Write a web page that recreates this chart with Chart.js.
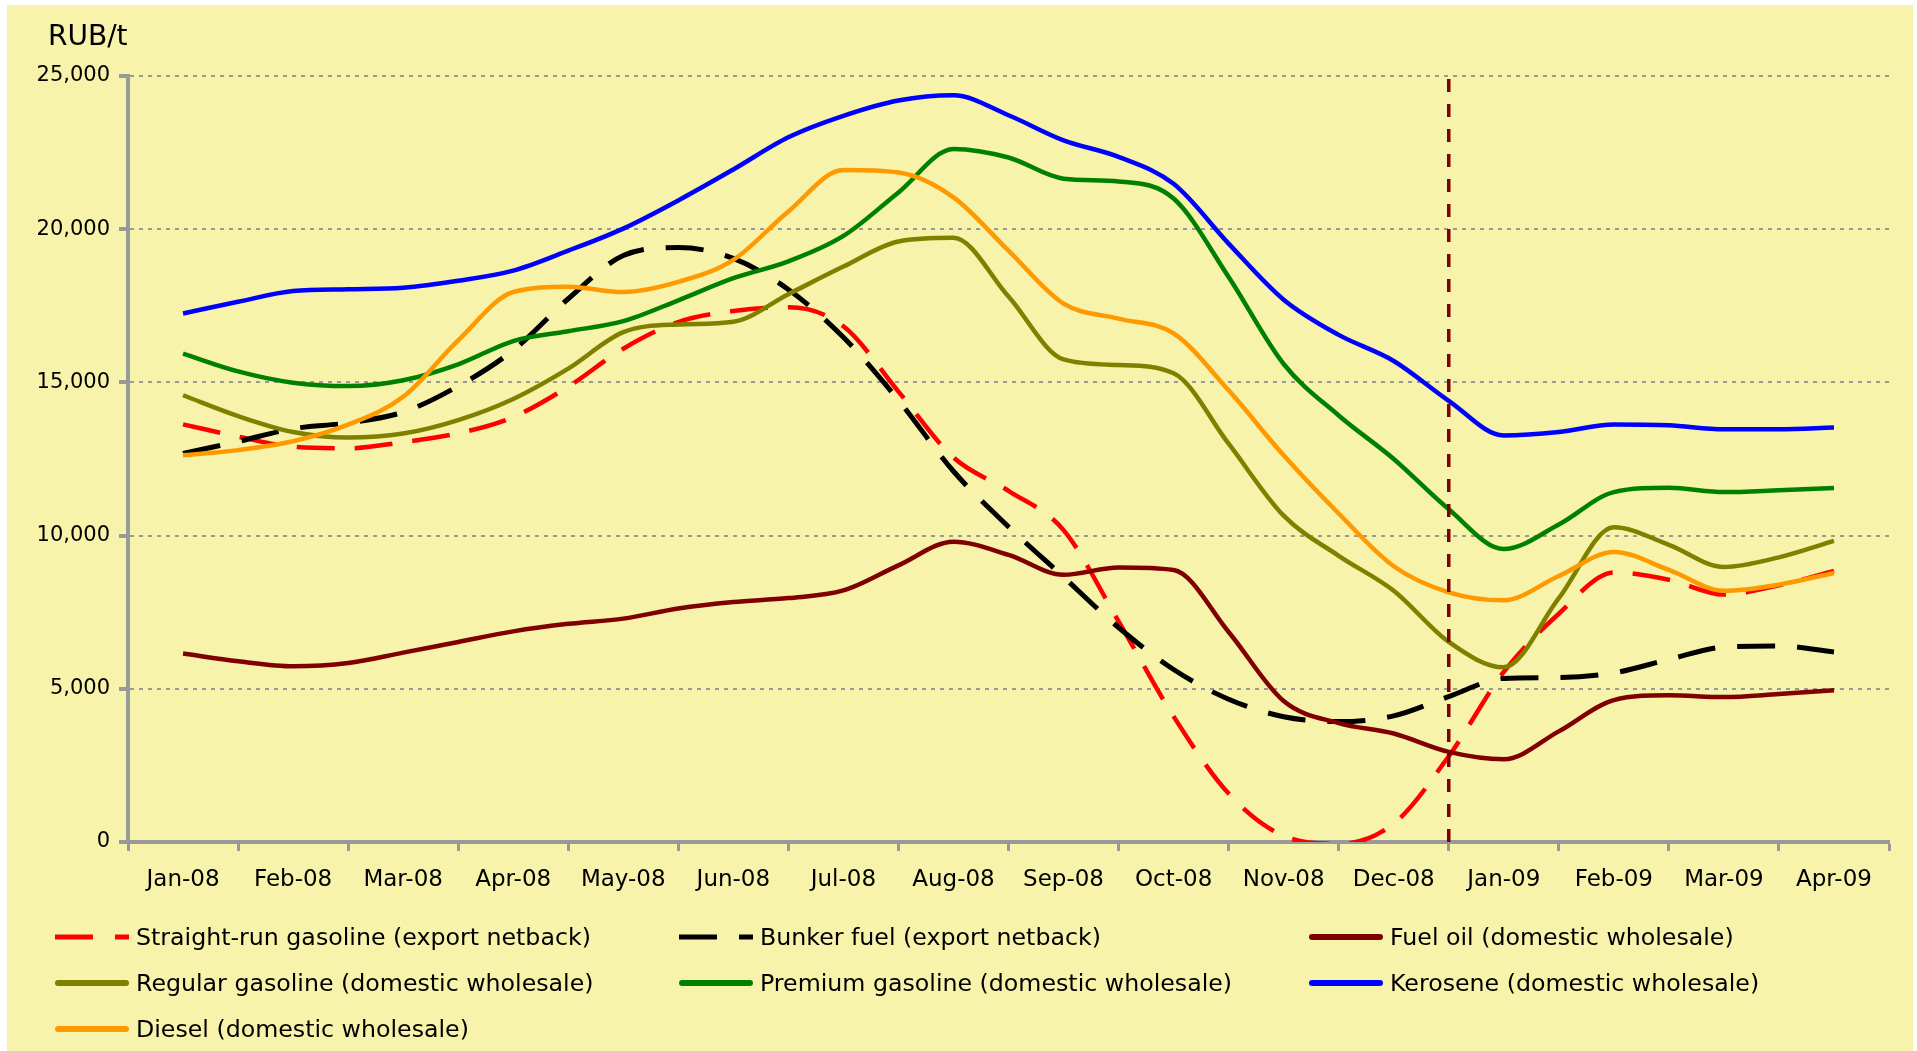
<!DOCTYPE html>
<html>
<head>
<meta charset="utf-8">
<script src="https://cdn.jsdelivr.net/npm/chart.js@4.4.1/dist/chart.umd.min.js"></script>
<style>
  html, body { margin: 0; padding: 0; background: #fff; }
  #wrap { position: relative; width: 1917px; height: 1051px; overflow: hidden; }
  #panel { position: absolute; left: 7px; top: 5px; width: 1906px; height: 1046px; background: #F7F3AA; }
  #chart { position: absolute; left: 0; top: 0; width: 1917px; height: 1051px; }
  #unit { position: absolute; left: 48px; top: 22px; font: 28px "DejaVu Sans"; line-height: 1; color: #000; }
  .item { position: absolute; height: 30px; display: flex; align-items: center; font: 23.7px "DejaVu Sans"; color: #000; white-space: nowrap; }
  .item svg { margin-right: 7px; }
</style>
</head>
<body>
<div id="wrap">
  <div id="panel"></div>
  <canvas id="chart" width="1917" height="1051"></canvas>
  <div id="unit">RUB/t</div>
  <div id="legend"></div>
</div>
<script>
// months on the axis
const monthLabels = ["Jan-08", "Feb-08", "Mar-08", "Apr-08", "May-08", "Jun-08", "Jul-08", "Aug-08",
  "Sep-08", "Oct-08", "Nov-08", "Dec-08", "Jan-09", "Feb-09", "Mar-09", "Apr-09"];

// sample positions, in months from Jan-08 (twice a month)
const samplePos = [0, 0.5, 1, 1.5, 2, 2.5, 3, 3.5, 4, 4.5, 5, 5.5, 6, 6.5, 7, 7.5,
  8, 8.5, 9, 9.5, 10, 10.5, 11, 11.5, 12, 12.5, 13, 13.5, 14, 14.5, 15];

const yTickValues = [0, 5000, 10000, 15000, 20000, 25000];

// RUB/t
const straightRun = [13630, 13230, 12900, 12850, 13050, 13340, 13870, 14860, 16100, 16970, 17330, 17450, 16830, 14700, 12550, 11460,
  10180, 7200, 4100, 1580, 200, -60, 600, 2800, 5550, 7450, 8800, 8560, 8075, 8380, 8850];
const bunkerFuel = [12680, 13070, 13490, 13680, 14030, 14880, 16050, 17730, 19140, 19400, 19050, 18030, 16470, 14420, 12100, 10290,
  8650, 7000, 5630, 4660, 4090, 3930, 4115, 4745, 5340, 5365, 5520, 5960, 6360, 6400, 6200];
const fuelOil = [6150, 5900, 5735, 5840, 6180, 6530, 6875, 7120, 7290, 7620, 7830, 7960, 8210, 9030, 9800, 9370,
  8720, 8960, 8880, 6855, 4600, 3880, 3540, 2940, 2700, 3610, 4630, 4790, 4730, 4830, 4950];
const regularGasoline = [14580, 13900, 13380, 13200, 13330, 13770, 14460, 15450, 16640, 16890, 16980, 17880, 18780, 19600, 19720, 17800,
  15750, 15570, 15300, 13000, 10650, 9340, 8200, 6530, 5700, 7960, 10270, 9700, 8975, 9290, 9825];
const premiumGasoline = [15940, 15360, 14990, 14880, 15070, 15590, 16350, 16670, 17000, 17680, 18400, 18950, 19780, 21200, 22620, 22340,
  21650, 21560, 21000, 18440, 15600, 13920, 12500, 10860, 9560, 10360, 11420, 11560, 11420, 11480, 11555];
const kerosene = [17250, 17630, 17980, 18040, 18090, 18320, 18650, 19300, 20020, 20940, 21950, 23000, 23700, 24200, 24370, 23720,
  22900, 22360, 21480, 19530, 17700, 16550, 15700, 14400, 13270, 13380, 13630, 13600, 13470, 13470, 13525];
const diesel = [12620, 12790, 13080, 13620, 14530, 16370, 17950, 18120, 17950, 18280, 19000, 20580, 21930, 21850, 21040, 19300,
  17570, 17080, 16600, 14740, 12620, 10720, 9000, 8150, 7890, 8680, 9465, 8880, 8200, 8400, 8780];

// dashed divider between 2008 and 2009
const dividerX = 11.5;
const dividerRange = [0, 25000];

function toPoints(values) {
  return values.map((v, i) => ({ x: samplePos[i], y: v }));
}

const series = [
  { label: "Straight-run gasoline (export netback)", data: straightRun, color: "#FF0000", width: 4.5, dash: [38, 20] },
  { label: "Bunker fuel (export netback)", data: bunkerFuel, color: "#000000", width: 5, dash: [38, 22] },
  { label: "Fuel oil (domestic wholesale)", data: fuelOil, color: "#800000", width: 4.5, dash: [] },
  { label: "Regular gasoline (domestic wholesale)", data: regularGasoline, color: "#808000", width: 4.5, dash: [] },
  { label: "Premium gasoline (domestic wholesale)", data: premiumGasoline, color: "#008000", width: 4.5, dash: [] },
  { label: "Kerosene (domestic wholesale)", data: kerosene, color: "#0000FF", width: 4.5, dash: [] },
  { label: "Diesel (domestic wholesale)", data: diesel, color: "#FF9900", width: 4.5, dash: [] },
];

const datasets = series.map((s, i) => ({
  label: s.label,
  data: toPoints(s.data),
  borderColor: s.color,
  borderWidth: s.width,
  borderDash: s.dash,
  pointRadius: 0,
  fill: false,
  cubicInterpolationMode: "monotone",
  order: series.length - i, // later series on top, like the original
}));

datasets.push({
  label: "divider",
  data: dividerRange.map((v) => ({ x: dividerX, y: v })),
  borderColor: "#800000",
  borderWidth: 3.5,
  borderDash: [13, 12],
  pointRadius: 0,
  order: -1,
});

Chart.defaults.font.family = "DejaVu Sans";
Chart.defaults.color = "#000";

const ctx = document.getElementById("chart").getContext("2d");
new Chart(ctx, {
  type: "line",
  data: { datasets: datasets },
  options: {
    responsive: false,
    animation: false,
    layout: { padding: { left: 0, right: 28, top: 76, bottom: 150 } },
    plugins: { legend: { display: false }, tooltip: { enabled: false } },
    scales: {
      x: {
        type: "linear",
        min: -0.5,
        max: monthLabels.length - 0.5,
        afterBuildTicks: (scale) => {
          // tick marks on the month boundaries
          scale.ticks = monthLabels.map((_, i) => ({ value: i - 0.5 })).concat([{ value: monthLabels.length - 0.5 }]);
        },
        afterFit: (scale) => { scale.height = 9; },
        ticks: { display: false },
        grid: { drawOnChartArea: false, drawTicks: true, tickLength: 9, tickWidth: 3, tickColor: "#999999" },
        border: { color: "#999999", width: 4 },
      },
      x2: {
        type: "category",
        labels: monthLabels,
        position: "bottom",
        offset: true,
        afterFit: (scale) => { scale.height = 50; },
        grid: { display: false, drawTicks: false },
        border: { display: false },
        ticks: { font: { size: 23 }, padding: 15, maxRotation: 0, autoSkip: false },
      },
      y: {
        min: 0,
        max: 25000,
        afterBuildTicks: (scale) => {
          scale.ticks = yTickValues.map((v) => ({ value: v }));
        },
        afterFit: (scale) => { scale.width = 128; },
        ticks: {
          font: { size: 21 },
          padding: 9,
          callback: (v) => v.toLocaleString("en-US"),
        },
        grid: { color: "#999999", lineWidth: 2, tickLength: 9, tickWidth: 4, tickColor: "#999999", tickBorderDash: [] },
        border: { color: "#999999", width: 4, dash: [4, 5] },
      },
    },
  },
});

// legend in three columns, like the original
const legendCols = [55, 679, 1309];
const legendRows = [937, 983, 1029];
const legendEl = document.getElementById("legend");
series.forEach((s, i) => {
  const item = document.createElement("div");
  item.className = "item";
  item.style.left = legendCols[i % 3] + "px";
  item.style.top = legendRows[Math.floor(i / 3)] - 15 + "px";
  const line = s.dash.length
    ? `<line x1="0" y1="5" x2="74" y2="5" stroke="${s.color}" stroke-width="5" stroke-dasharray="38 22"/>`
    : `<line x1="3" y1="5" x2="71" y2="5" stroke="${s.color}" stroke-width="6" stroke-linecap="round"/>`;
  item.innerHTML = `<svg width="74" height="10">${line}</svg><span>${s.label}</span>`;
  legendEl.appendChild(item);
});
</script>
</body>
</html>
